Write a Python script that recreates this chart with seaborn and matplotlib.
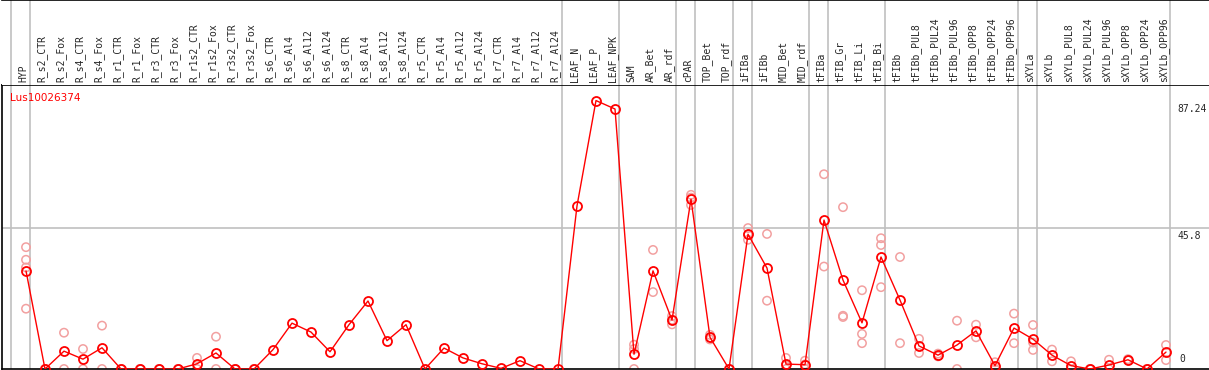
import pandas as pd
import matplotlib
matplotlib.use("Agg")
import matplotlib.pyplot as plt
import matplotlib.transforms as mtransforms
import seaborn as sns

# Datos
gene = "Lus10026374"
categorias = ["HYP",
              "R_s2_CTR", "R_s2_Fox", "R_s4_CTR", "R_s4_Fox", "R_r1_CTR", "R_r1_Fox",
              "R_r3_CTR", "R_r3_Fox", "R_r1s2_CTR", "R_r1s2_Fox", "R_r3s2_CTR", "R_r3s2_Fox",
              "R_s6_CTR", "R_s6_Al4", "R_s6_Al12", "R_s6_Al24",
              "R_s8_CTR", "R_s8_Al4", "R_s8_Al12", "R_s8_Al24",
              "R_r5_CTR", "R_r5_Al4", "R_r5_Al12", "R_r5_Al24",
              "R_r7_CTR", "R_r7_Al4", "R_r7_Al12", "R_r7_Al24",
              "LEAF_N", "LEAF_P", "LEAF_NPK",
              "SAM", "AR_Bet", "AR_rdf", "cPAR", "TOP_Bet", "TOP_rdf",
              "iFIBa", "iFIBb", "MID_Bet", "MID_rdf",
              "tFIBa", "tFIB_Gr", "tFIB_Li", "tFIB_Bi",
              "tFIBb", "tFIBb_PUL8", "tFIBb_PUL24", "tFIBb_PUL96",
              "tFIBb_OPP8", "tFIBb_OPP24", "tFIBb_OPP96",
              "sXYLa", "sXYLb", "sXYLb_PUL8", "sXYLb_PUL24", "sXYLb_PUL96",
              "sXYLb_OPP8", "sXYLb_OPP24", "sXYLb_OPP96"]

medias = [31.9,
          0, 5.8, 3.2, 6.9, 0, 0, 0, 0, 1.7, 5.2, 0, 0,
          6.3, 14.9, 12.0, 5.6, 14.4, 22.1, 9.2, 14.4,
          0, 6.8, 3.6, 1.7, 0.2, 2.7, 0, 0,
          53.0, 87.24, 84.5,
          4.8, 31.9, 15.9, 55.2, 10.3, 0,
          43.8, 32.8, 1.6, 1.4,
          48.4, 28.9, 15.0, 36.4,
          22.4, 7.5, 4.5, 7.8, 12.4, 1.1, 13.3,
          9.7, 4.5, 1.1, 0, 1.3, 3.0, 0, 5.5]

replicas = [[39.6, 35.5, 33.0, 19.6],
            [0, 0], [11.8, 0], [6.5, 0], [14.1, 0], [0, 0], [0, 0], [0, 0], [0, 0],
            [3.6, 0], [10.5, 0], [0, 0], [0, 0],
            [], [], [], [], [], [], [], [], [], [], [], [], [], [], [], [],
            [], [], [],
            [7.9, 6.5, 0], [38.7, 25.0], [17.2, 14.5, 16.0], [56.6, 55.7, 53.3],
            [11.1, 9.6, 10.2], [0, 0],
            [45.8, 43.6, 42.0], [43.9, 22.2], [3.6, 1.2, 0], [2.7, 1.5, 0],
            [63.3, 33.3], [52.6, 17.3, 16.9], [25.6, 11.4, 8.4], [42.5, 40.3, 26.6],
            [36.4, 8.4], [9.8, 5.2], [5.0, 4.1], [15.7, 0], [14.4, 10.3], [2.2, 0], [18.0, 8.4],
            [14.3, 8.6, 6.2], [6.3, 2.5], [2.5, 0], [0, 0], [3.0, 0], [3.2, 2.8], [0, 0], [7.8, 2.9]]

# ultimo indice de cada grupo (lineas verticales)
fin_grupos = [-1, 0, 28, 31, 34, 35, 37, 38, 41, 42, 45, 52, 53, 60]
ticks_y = [0, 45.8, 87.24]

df = pd.DataFrame({"pos": range(len(categorias)), "muestra": categorias, "valor": medias})
df_rep = pd.DataFrame([(i, v) for i, vals in enumerate(replicas) for v in vals],
                      columns=["pos", "valor"])

sns.set_style("white")
W, H = 1209, 370
fig = plt.figure(figsize=(W / 100, H / 100), dpi=100)
izq = 2 / W
ancho = 1 - izq
ax = fig.add_axes([izq, 1 / H, ancho, 284 / H])
cab = fig.add_axes([izq, 285 / H, ancho, 85 / H])

xlim = ((2 - 26) / 19, (W - 26) / 19)
for a in (ax, cab):
    a.set_xlim(*xlim)
    for g in fin_grupos:
        a.axvline(g + 0.21, color="#c0c0c0", lw=1.2, zorder=0)
    a.set_xticks([])
    a.set_yticks([])
    a.spines["right"].set_visible(False)
    for s in a.spines.values():
        s.set_color("black")
        s.set_linewidth(1.2)

cab.spines["left"].set_visible(False)
cab.spines["bottom"].set_visible(False)
cab.set_ylim(0, 1)
for i, nombre in enumerate(categorias):
    cab.text(i - 0.15, 0.03, nombre, rotation=90, ha="center", va="bottom",
             fontsize=7, family="DejaVu Sans Mono")

ax.set_ylim(0, 92.3)
ax.axhline(45.8, color="#c0c0c0", lw=1.2, zorder=0)

# replicas
sns.scatterplot(data=df_rep, x="pos", y="valor", ax=ax, marker="o", s=36,
                color="#f2a0a0", linewidth=1.1, zorder=2, legend=False)
ax.collections[-1].set_facecolor("none")
ax.collections[-1].set_edgecolor("#f2a0a0")

# medias
sns.lineplot(data=df, x="pos", y="valor", ax=ax, color="red", lw=1,
             marker="o", markersize=6.5, markerfacecolor="none",
             markeredgecolor="red", markeredgewidth=1.3, zorder=3)
ax.set_xlabel("")
ax.set_ylabel("")
ax.set_xlim(*xlim)

ax.text(0.007, 0.955, gene, transform=ax.transAxes, color="red", fontsize=7.5,
        ha="left", va="center")

trans = mtransforms.blended_transform_factory(ax.transAxes, ax.transData)
xt = (1177 - 2) / (W - 2)
for v in ticks_y:
    txt = "0" if v == 0 else f"{v:g}"
    if v == 0:
        ax.text(xt + 0.002, 1.5, txt, transform=trans, fontsize=7,
                family="DejaVu Sans Mono", ha="left", va="bottom")
    else:
        ax.text(xt, v - 1.0, txt, transform=trans, fontsize=7,
                family="DejaVu Sans Mono", ha="left", va="top")

fig.savefig("out.png", dpi=100)
